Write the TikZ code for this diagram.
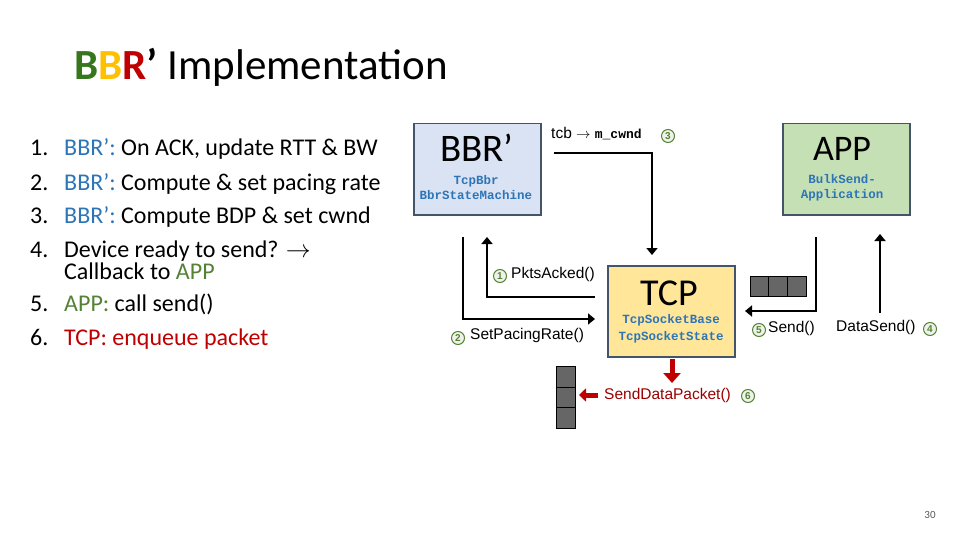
\documentclass[tikz,border=0pt]{standalone}
\usepackage{fontspec}
\setmainfont{Carlito}
\newfontfamily\arialf{Liberation Sans}
\newfontfamily\monof{Liberation Mono}
\usetikzlibrary{arrows.meta}
\definecolor{bblue}{HTML}{2E75B6}
\definecolor{bgreen}{HTML}{548235}
\definecolor{dgreen}{HTML}{38761D}
\definecolor{bred}{HTML}{C00000}
\definecolor{byellow}{HTML}{FFC000}
\definecolor{boxblue}{HTML}{DAE3F3}
\definecolor{boxgreen}{HTML}{C5E0B4}
\definecolor{boxyel}{HTML}{FFE699}
\definecolor{edge}{HTML}{44546A}
\begin{document}
\begin{tikzpicture}[x=1pt,y=-1pt,
  box/.style={draw=edge,line width=1.5pt,minimum width=127pt,minimum height=91pt,anchor=north west},
  mono/.style={font=\monof\bfseries\fontsize{12.5}{14}\selectfont,text=bblue,align=center},
  lab/.style={font=\arialf\fontsize{15.5}{17}\selectfont,inner sep=0pt},
  num/.style={circle,draw=bgreen,line width=1pt,fill=bgreen!10,inner sep=0pt,minimum size=13pt,font=\arialf\bfseries\fontsize{10}{10}\selectfont,text=bgreen},
  flow/.style={line width=2.8pt,-{Triangle[length=7pt,width=11pt]}},
  pkt/.style={draw=black,fill=gray!80!black,line width=1.2pt,minimum width=19pt,minimum height=20.5pt,inner sep=0pt},
  li/.style={font=\fontsize{24}{28}\selectfont,anchor=base west,inner sep=0pt}]
\useasboundingbox (0,0) rectangle (960,540);
\node[font=\fontsize{43}{46}\selectfont,anchor=base west,inner sep=0pt] (title) at (74,80)
  {\bfseries\textcolor{dgreen}{B}\textcolor{byellow}{B}\textcolor{bred}{R}’\mdseries\ Implementation};
% list
\foreach \n/\y in {1./156,2./190,3./223,4./257,5./311,6./345}
  \node[li] (n\n) at (30,\y) {\n};
\node[li] (l1) at (64,156) {\textcolor{bblue}{BBR’:} On ACK, update RTT \& BW};
\node[li] (l2) at (64,190) {\textcolor{bblue}{BBR’:} Compute \& set pacing rate};
\node[li] (l3) at (64,223) {\textcolor{bblue}{BBR’:} Compute BDP \& set cwnd};
\node[li] (l4) at (64,257) {Device ready to send? $\rightarrow$};
\node[li] (l4b) at (64,279) {Callback to \textcolor{bgreen}{APP}};
\node[li] (l5) at (64,311) {\textcolor{bgreen}{APP:} call send()};
\node[li,text=bred] (l6) at (64,345) {TCP: enqueue packet};
% boxes
\node[box,fill=boxblue] (bbr) at (413,123) {};
\node[font=\fontsize{39}{40}\selectfont] (bbrt) at (477,148) {BBR’};
\node[mono] (bbrs) at (476,188) {TcpBbr\\[1pt]BbrStateMachine};
\node[box,fill=boxgreen] (app) at (782,123) {};
\node[font=\fontsize{36}{38}\selectfont] (appt) at (842,149) {APP};
\node[mono] (apps) at (842,188) {BulkSend-\\[1pt]Application};
\node[box,fill=boxyel] (tcp) at (607,265) {};
\node[font=\fontsize{38}{40}\selectfont] (tcpt) at (669,293) {TCP};
\node[mono] (tcps) at (671,329) {TcpSocketBase\\[3pt]TcpSocketState};
% connectors
\coordinate (c3a) at (554,153); \coordinate (c3b) at (652,153); \coordinate (c3c) at (652,255);
\draw[flow] (c3a) -- (c3b) -- (c3c);
\coordinate (c1a) at (595,297); \coordinate (c1b) at (487,297); \coordinate (c1c) at (487,237);
\draw[flow] (c1a) -- (c1b) -- (c1c);
\coordinate (c2a) at (463,237); \coordinate (c2b) at (463,319); \coordinate (c2c) at (595,319);
\draw[flow] (c2a) -- (c2b) -- (c2c);
\coordinate (c5a) at (816,237); \coordinate (c5b) at (816,311); \coordinate (c5c) at (745,311);
\draw[flow] (c5a) -- (c5b) -- (c5c);
\coordinate (c4a) at (880,313); \coordinate (c4b) at (880,234);
\draw[flow] (c4a) -- (c4b);
% queues
\node[pkt] (q1) at (760,286.5) {};
\node[pkt] (q2) at (778,286.5) {};
\node[pkt] (q3) at (797,286.5) {};
\node[pkt] (v1) at (566,377) {};
\node[pkt] (v2) at (566,397.5) {};
\node[pkt] (v3) at (566,418) {};
\coordinate (rd1) at (672,359); \coordinate (rd2) at (672,383);
\draw[bred,line width=5pt,-{Triangle[length=10pt,width=17pt]}] (rd1) -- (rd2);
\coordinate (rl) at (598,395);
\draw[bred,line width=5pt,-{Triangle[length=7pt,width=13pt]}] (rl) -- (579,395);
% labels
\node[lab,anchor=west] (t3) at (551,134) {tcb $\rightarrow$ {\monof\bfseries\fontsize{13}{14}\selectfont m\_cwnd}};
\node[num] (k3) at (668,136) {3};
\node[num] (k1) at (500,276) {1};
\node[lab,anchor=west] (t1) at (511,274) {PktsAcked()};
\node[num] (k2) at (458,338) {2};
\node[lab,anchor=west] (t2) at (470,335) {SetPacingRate()};
\node[num] (k5) at (759,330) {5};
\node[lab,anchor=west] (t5) at (768,328) {Send()};
\node[lab,anchor=west] (t4) at (836,327) {DataSend()};
\node[num] (k4) at (930,329) {4};
\node[lab,anchor=west,text=bred!80!black] (t6) at (604,395) {SendDataPacket()};
\node[num] (k6) at (748,396) {6};
\node[font=\fontsize{11}{12}\selectfont,text=gray!70!black] (pg) at (930,515) {30};
\end{tikzpicture}
\end{document}
